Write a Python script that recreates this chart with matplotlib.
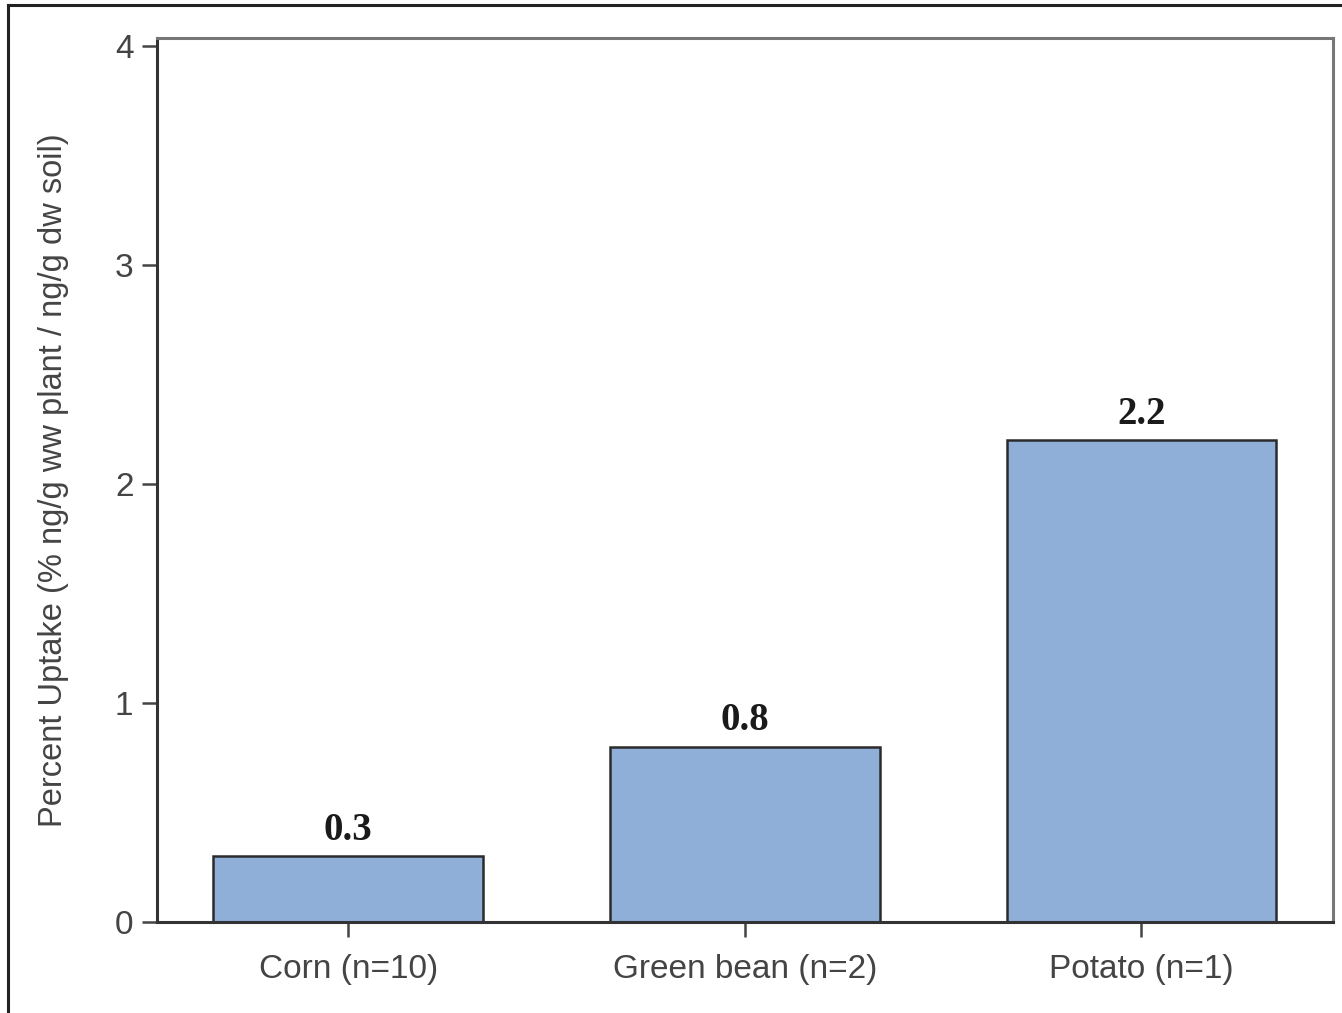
import matplotlib.pyplot as plt
from matplotlib.lines import Line2D

crops = ["Corn (n=10)", "Green bean (n=2)", "Potato (n=1)"]
uptake = [0.3, 0.8, 2.2]
value_labels = ["0.3", "0.8", "2.2"]
yticks = [0, 1, 2, 3, 4]

plt.rcParams['font.family'] = ['Liberation Sans', 'DejaVu Sans']

fig = plt.figure(figsize=(13.42, 10.13), dpi=100)
ax = fig.add_axes([0.117, 0.0898, 0.8763, 0.8727])

x = list(range(len(crops)))
ax.bar(x, uptake, width=0.68, color="#8fafd9", edgecolor="#2b2b2b", linewidth=1.8, zorder=2)

for xi, v, lab in zip(x, uptake, value_labels):
    ax.text(xi, v + 0.035, lab, ha="center", va="bottom", fontsize=28,
            fontweight="bold", family=["Liberation Serif", "DejaVu Serif"], color="#1a1a1a")

ax.set_xlim(-0.482, 2.483)
ax.set_ylim(0, 4.037)
ax.set_yticks(yticks)
ax.set_xticks(x)
ax.set_xticklabels(crops)
ax.tick_params(axis="both", direction="out", length=11, width=1.8, color="#444444",
               labelsize=24, labelcolor="#444444", pad=6)
ax.tick_params(axis="x", pad=12)
ax.set_ylabel("Percent Uptake (% ng/g ww plant / ng/g dw soil)", fontsize=23.5,
              color="#444444", labelpad=33)

for s in ["left", "bottom"]:
    ax.spines[s].set_color("#333333")
    ax.spines[s].set_linewidth(2.2)
for s in ["top", "right"]:
    ax.spines[s].set_color("#777777")
    ax.spines[s].set_linewidth(2.2)

# outer frame of the original picture (top and left edges only)
fig.add_artist(Line2D([0.006, 1.0], [0.995, 0.995], color="#222222", linewidth=2.2))
fig.add_artist(Line2D([0.006, 0.006], [0.0, 0.995], color="#222222", linewidth=2.2))

fig.savefig("out.png", dpi=100)
